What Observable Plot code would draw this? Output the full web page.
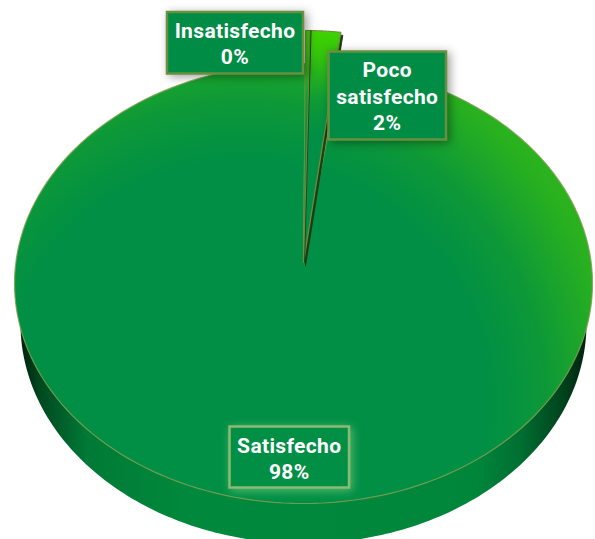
<!DOCTYPE html>
<html><head><meta charset="utf-8">
<script src="https://cdn.jsdelivr.net/npm/d3@7"></script>
<script src="https://cdn.jsdelivr.net/npm/@observablehq/plot@0.6"></script>
<style>html,body{margin:0;padding:0;background:#fff;overflow:hidden}svg{display:block}</style>
</head><body><div id="chart"></div>
<script>
// Data
const categories = ["Insatisfecho", "Poco\nsatisfecho", "Satisfecho"];
const shares = [0.25, 1.7, 98.05];

// Layout (pixels, used only by the pie projection and the label boxes)
const W = 595, H = 539;
const face = {cx: 303, cy: 283, rx: 289, ry: 220, apexY: 262, apexX: 303};
const lift = 33;          // the two small slices are pulled upward
const rim = {cx: 303, cy: 323, rx: 283, ry: 220};
const boxes = [
  {x1: 167, x2: 303, y1: 12, y2: 73.5},
  {x1: 328.5, x2: 446, y1: 51.5, y2: 139.5},
  {x1: 229.5, x2: 349, y1: 426.5, y2: 487.5}
];
const textCy = [41.8, 94.5, 457];

const arcs = d3.pie().sort(null).startAngle(0.007).endAngle(2 * Math.PI + 0.007)(shares);
const ellipse = (e, a) => ({x: e.cx + e.rx * Math.sin(a), y: e.cy - e.ry * Math.cos(a)});
const sweep = (e, a0, a1) => d3.range(0, 181).map(i => ellipse(e, a0 + (a1 - a0) * i / 180));
const wedge = (arc, dy) => {
  const e = {...face, cy: face.cy - dy};
  const apex = {x: face.apexX, y: face.apexY};
  return [apex, ...sweep(e, arc.startAngle, arc.endAngle), apex];
};
// visible wall of the pie: lower rim, closed over the front of the face
const wall = [...sweep(rim, Math.PI / 2 - 0.1, 3 * Math.PI / 2 + 0.1)];

const labels = categories.map((c, i) => ({
  text: `${c}\n${Math.round(shares[i])}%`,
  x: (boxes[i].x1 + boxes[i].x2) / 2 - 0.5,
  y: textCy[i],
  ...boxes[i]
}));

const xy = {x: "x", y: "y"};
const plot = Plot.plot({
  width: W, height: H,
  margin: 0,
  x: {domain: [0, W], range: [0, W], axis: null},
  y: {domain: [0, H], range: [0, H], axis: null},
  style: {background: "transparent", fontFamily: "Roboto, sans-serif", letterSpacing: "0.35px"},
  marks: [
    Plot.line(wall, {...xy, fill: "url(#wallGrad)", stroke: "none"}),
    Plot.line(wedge(arcs[2], 0), {...xy, fill: "url(#faceGrad)", stroke: "#82a052", strokeWidth: 1.2, strokeOpacity: 0.85}),
    Plot.line(wedge(arcs[1], lift), {...xy, fill: "#1d3d12", stroke: "#1d3d12", strokeWidth: 1, dx: 2, dy: 3}),
    Plot.line(wedge(arcs[1], lift), {...xy, fill: "url(#sliceGrad)", stroke: "#6f8f40", strokeWidth: 1.2}),
    Plot.line(wedge(arcs[0], lift), {...xy, fill: "#24471a", stroke: "#24471a", strokeWidth: 1, dx: 1}),
    Plot.line(wedge(arcs[0], lift), {...xy, fill: "url(#sliceGrad)", stroke: "#6f8f40", strokeWidth: 1}),
    Plot.rect(labels.slice(0, 2), {
      x1: "x1", x2: "x2", y1: "y1", y2: "y2",
      fill: "#008c45", stroke: "#67913f", strokeWidth: 2.5,
      imageFilter: "drop-shadow(3px 2px 5px rgba(0,0,0,.38))"
    }),
    Plot.rect(labels.slice(2), {
      x1: "x1", x2: "x2", y1: "y1", y2: "y2",
      fill: "#008f45", stroke: "#8cba72", strokeWidth: 2.5,
      imageFilter: "drop-shadow(2px 2px 5px rgba(160,220,150,.55))"
    }),
    Plot.text(labels, {
      x: "x", y: "y", text: "text",
      fill: "white", fontSize: 21, fontWeight: 700, lineHeight: 1.27,
      textAnchor: "middle"
    })
  ]
});

// gradients used as fills
const defs = d3.select(plot).append("defs");
const wallStops = [[0, "#001f0c"], [0.04, "#004a20"], [0.12, "#007a36"], [0.3, "#00893c"], [0.8, "#00863b"], [0.88, "#006f32"], [0.96, "#00401b"], [1, "#001f0c"]];
const wg = defs.append("linearGradient").attr("id", "wallGrad").attr("gradientUnits", "userSpaceOnUse")
  .attr("x1", 18).attr("x2", 588).attr("y1", 0).attr("y2", 0);
wallStops.forEach(([o, c]) => wg.append("stop").attr("offset", o).attr("stop-color", c));
const faceStops = [[0, "#008f45"], [0.58, "#008f45"], [0.72, "#0d9838"], [0.88, "#28b020"], [1, "#30ba18"]];
const fg = defs.append("radialGradient").attr("id", "faceGrad").attr("gradientUnits", "userSpaceOnUse")
  .attr("cx", 243).attr("cy", 404).attr("r", 420);
faceStops.forEach(([o, c]) => fg.append("stop").attr("offset", o).attr("stop-color", c));
const sliceStops = [[0, "#3fd402"], [0.1, "#35c50a"], [0.3, "#0f9a36"], [0.45, "#008f45"], [1, "#008f45"]];
const sg = defs.append("linearGradient").attr("id", "sliceGrad").attr("gradientUnits", "userSpaceOnUse")
  .attr("x1", 0).attr("x2", 0).attr("y1", 30).attr("y2", 262);
sliceStops.forEach(([o, c]) => sg.append("stop").attr("offset", o).attr("stop-color", c));

document.getElementById("chart").append(plot);
</script></body></html>
